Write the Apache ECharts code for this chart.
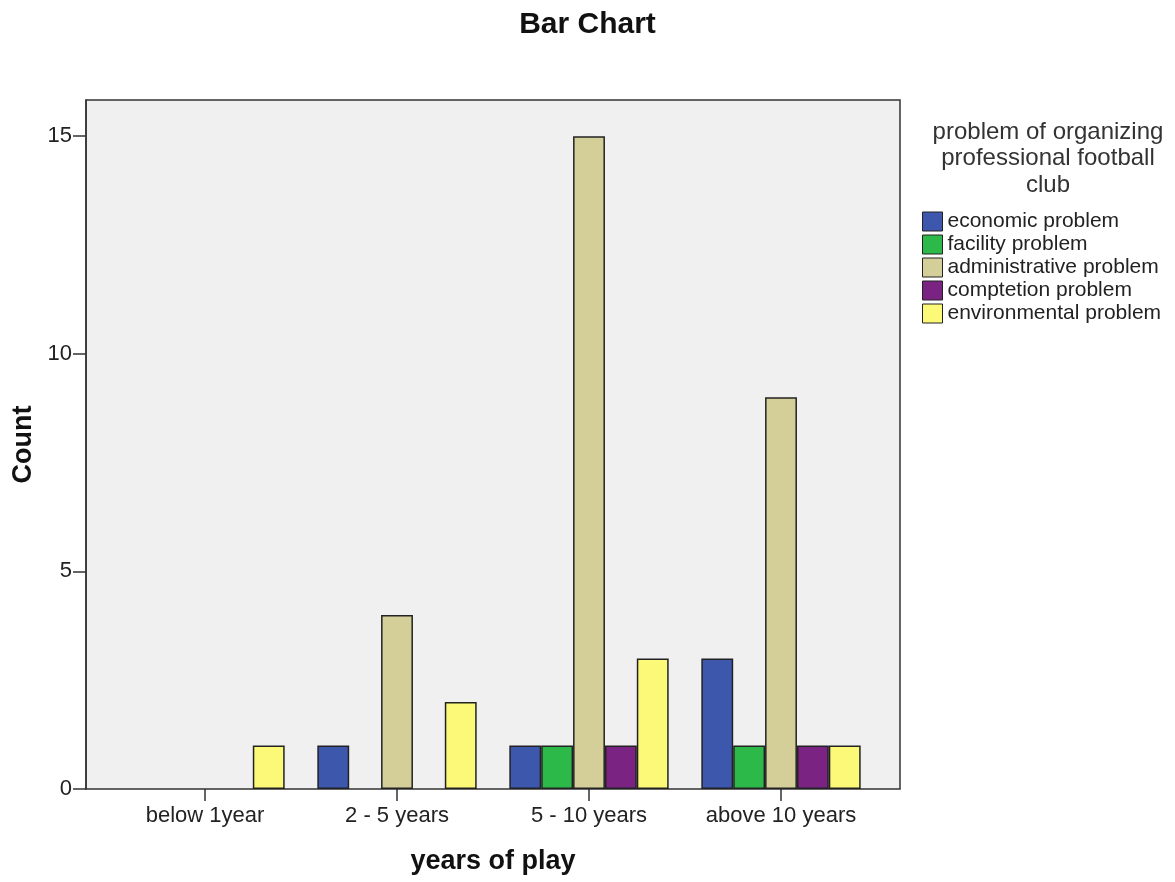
<!DOCTYPE html>
<html><head><meta charset="utf-8">
<script src="https://cdn.jsdelivr.net/npm/echarts@6/dist/echarts.min.js"></script>
<style>html,body{margin:0;padding:0;background:#fff}#c{width:1175px;height:882px}</style>
</head><body><div id="c"></div>
<script>
const categories = ['below 1year', '2 - 5 years', '5 - 10 years', 'above 10 years'];
const economic = [0, 1, 1, 3];
const facility = [0, 0, 1, 1];
const administrative = [0, 4, 15, 9];
const competition = [0, 0, 1, 1];
const environmental = [1, 2, 3, 1];
const seriesNames = ['economic problem', 'facility problem', 'administrative problem', 'comptetion problem', 'environmental problem'];
const seriesColors = ['#3D57AD', '#2DB84A', '#D4CF98', '#7A2383', '#FBF977'];
const yTicks = [0, 5, 10, 15];
const yMax = 15.83;

const allData = [economic, facility, administrative, competition, environmental];
const font = 'Liberation Sans, Arial, sans-serif';
const chart = echarts.init(document.getElementById('c'));
chart.setOption({
  animation: false,
  textStyle: { fontFamily: font },
  title: [
    { text: 'Bar Chart', left: 'center', top: 5, textStyle: { fontFamily: font, fontSize: 30, fontWeight: 'bold', color: '#111' } },
    { text: 'problem of organizing\nprofessional football\nclub', left: 1043, textAlign: 'center', top: 114,
      textStyle: { fontFamily: font, fontSize: 24, fontWeight: 'normal', color: '#333', lineHeight: 26.5 } }
  ],
  legend: {
    orient: 'vertical', left: 917, top: 206, itemWidth: 20, itemHeight: 19, itemGap: 2,
    icon: 'rect',
    itemStyle: { borderColor: '#222', borderWidth: 1 },
    textStyle: { fontFamily: font, fontSize: 21, color: '#222', lineHeight: 19 },
    data: seriesNames
  },
  grid: [
    { left: 86, top: 100, width: 814, height: 689, show: true, backgroundColor: '#F0F0F0', borderColor: '#333', borderWidth: 1.5 },
    { left: 109, top: 100, width: 768, height: 689 }
  ],
  xAxis: [
    { gridIndex: 0, type: 'value', min: 0, max: 1, show: false },
    { gridIndex: 1, type: 'category', data: categories,
      axisLine: { show: false },
      axisTick: { show: true, interval: 0, alignWithLabel: true, length: 12, lineStyle: { color: '#333', width: 1.5 } },
      axisLabel: { interval: 0, fontFamily: font, fontSize: 22, color: '#222', margin: 16 },
      name: 'years of play', nameLocation: 'middle', nameGap: 59,
      nameTextStyle: { fontFamily: font, fontSize: 27, fontWeight: 'bold', color: '#111' } }
  ],
  yAxis: [
    { gridIndex: 0, type: 'value', min: 0, max: yMax, interval: 5,
      splitLine: { show: false },
      axisLine: { show: true, lineStyle: { color: '#333', width: 1.5 } },
      axisTick: { show: true, length: 13, customValues: yTicks, lineStyle: { color: '#333', width: 1.5 } },
      axisLabel: { fontFamily: font, fontSize: 22, color: '#222', margin: 14, customValues: yTicks },
      name: 'Count', nameLocation: 'middle', nameGap: 47, nameRotate: 90,
      nameTextStyle: { fontFamily: font, fontSize: 27, fontWeight: 'bold', color: '#111' } },
    { gridIndex: 1, type: 'value', min: 0, max: yMax, show: false }
  ],
  series: seriesNames.map((n, i) => ({
    name: n, type: 'bar', xAxisIndex: 1, yAxisIndex: 1,
    data: allData[i].map(v => v === 0 ? '-' : v),
    barGap: '0%', barCategoryGap: '17%',
    itemStyle: { color: seriesColors[i], borderColor: '#222', borderWidth: 1.5 }
  }))
});
</script></body></html>
